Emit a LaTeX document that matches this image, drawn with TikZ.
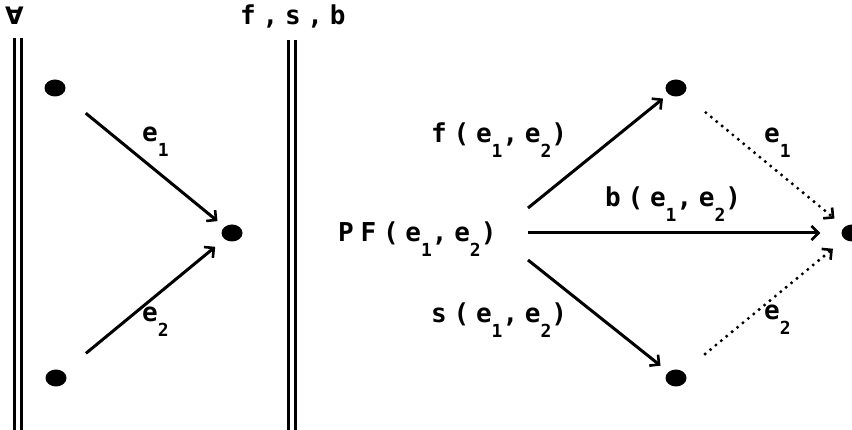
\documentclass[tikz,border=0pt]{standalone}
\usepackage{fontspec}
\newfontfamily\monob{DejaVu Sans Mono}[LetterSpace=26]
\newfontfamily\symb{DejaVu Sans}
\usetikzlibrary{arrows.meta,calc,shapes.geometric}
\newcommand\subd[1]{\raisebox{-15pt}{\fontsize{18}{18}\selectfont #1}}
\tikzset{
  dot/.style={ellipse, fill=black, inner sep=0pt, minimum width=21pt, minimum height=17pt},
  lbl/.style={anchor=base west, inner sep=0pt, font=\monob\bfseries\fontsize{26}{26}\selectfont},
  arr/.style={line width=3pt, -{Straight Barb[length=7pt,width=14pt,line width=2.6pt]}},
  dotarr/.style={line width=3.4pt, dash pattern=on 0pt off 7pt, line cap=round, -{Straight Barb[length=7pt,width=14pt,line width=2.6pt]}},
  dline/.style={double, double distance=4pt, line width=3pt}
}
\begin{document}
\begin{tikzpicture}[x=1pt,y=-1pt]
\useasboundingbox (0,0) rectangle (852,430);
% headers
\node[lbl, font=\symb\bfseries\fontsize{24}{24}\selectfont] (all) at (5,25) {∀};
\node[lbl] (fsb) at (240,25) {f,s,b};
\coordinate (l1t) at (18,38);
\coordinate (l1b) at (18,432);
\coordinate (l2t) at (291.5,40);
\coordinate (l2b) at (291.5,432);
\draw[dline] (l1t) -- (l1b);
\draw[dline] (l2t) -- (l2b);
% left dots
\node[dot] (lt) at (55,88) {};
\node[dot] (lb) at (56,378) {};
\node[dot] (lm) at (232,233) {};
\draw[arr, shorten <=30pt, shorten >=9pt] (lt) -- (lm);
\draw[arr, shorten <=29pt, shorten >=12pt] (lb) -- (lm);
\node[lbl] (le1) at (142,142) {e\subd{1}};
\node[lbl] (le2) at (142,322) {e\subd{2}};
% right part
\node[lbl] (pf) at (338,242) {PF(e\subd{1},e\subd{2})};
\node[dot] (rt) at (676,88) {};
\node[dot] (rb) at (676,378) {};
\node[dot] (rm) at (852,233) {};
\coordinate (pfu) at (528,208);
\coordinate (pfm) at (528,233);
\coordinate (pfd) at (528,260);
\draw[arr, shorten >=7pt] (pfu) -- (rt);
\draw[arr, shorten >=21pt] (pfm) -- (rm);
\draw[arr, shorten >=10pt] (pfd) -- (rb);
\draw[dotarr, shorten <=29pt, shorten >=13pt] (rt) -- (rm);
\draw[dotarr, shorten <=28pt, shorten >=15pt] (rb) -- (rm);
\node[lbl] (fl) at (431,143) {f(e\subd{1},e\subd{2})};
\node[lbl] (bl) at (605,207) {b(e\subd{1},e\subd{2})};
\node[lbl] (sl) at (431,323) {s(e\subd{1},e\subd{2})};
\node[lbl] (re1) at (764,143) {e\subd{1}};
\node[lbl] (re2) at (764,320) {e\subd{2}};
\end{tikzpicture}
\end{document}
